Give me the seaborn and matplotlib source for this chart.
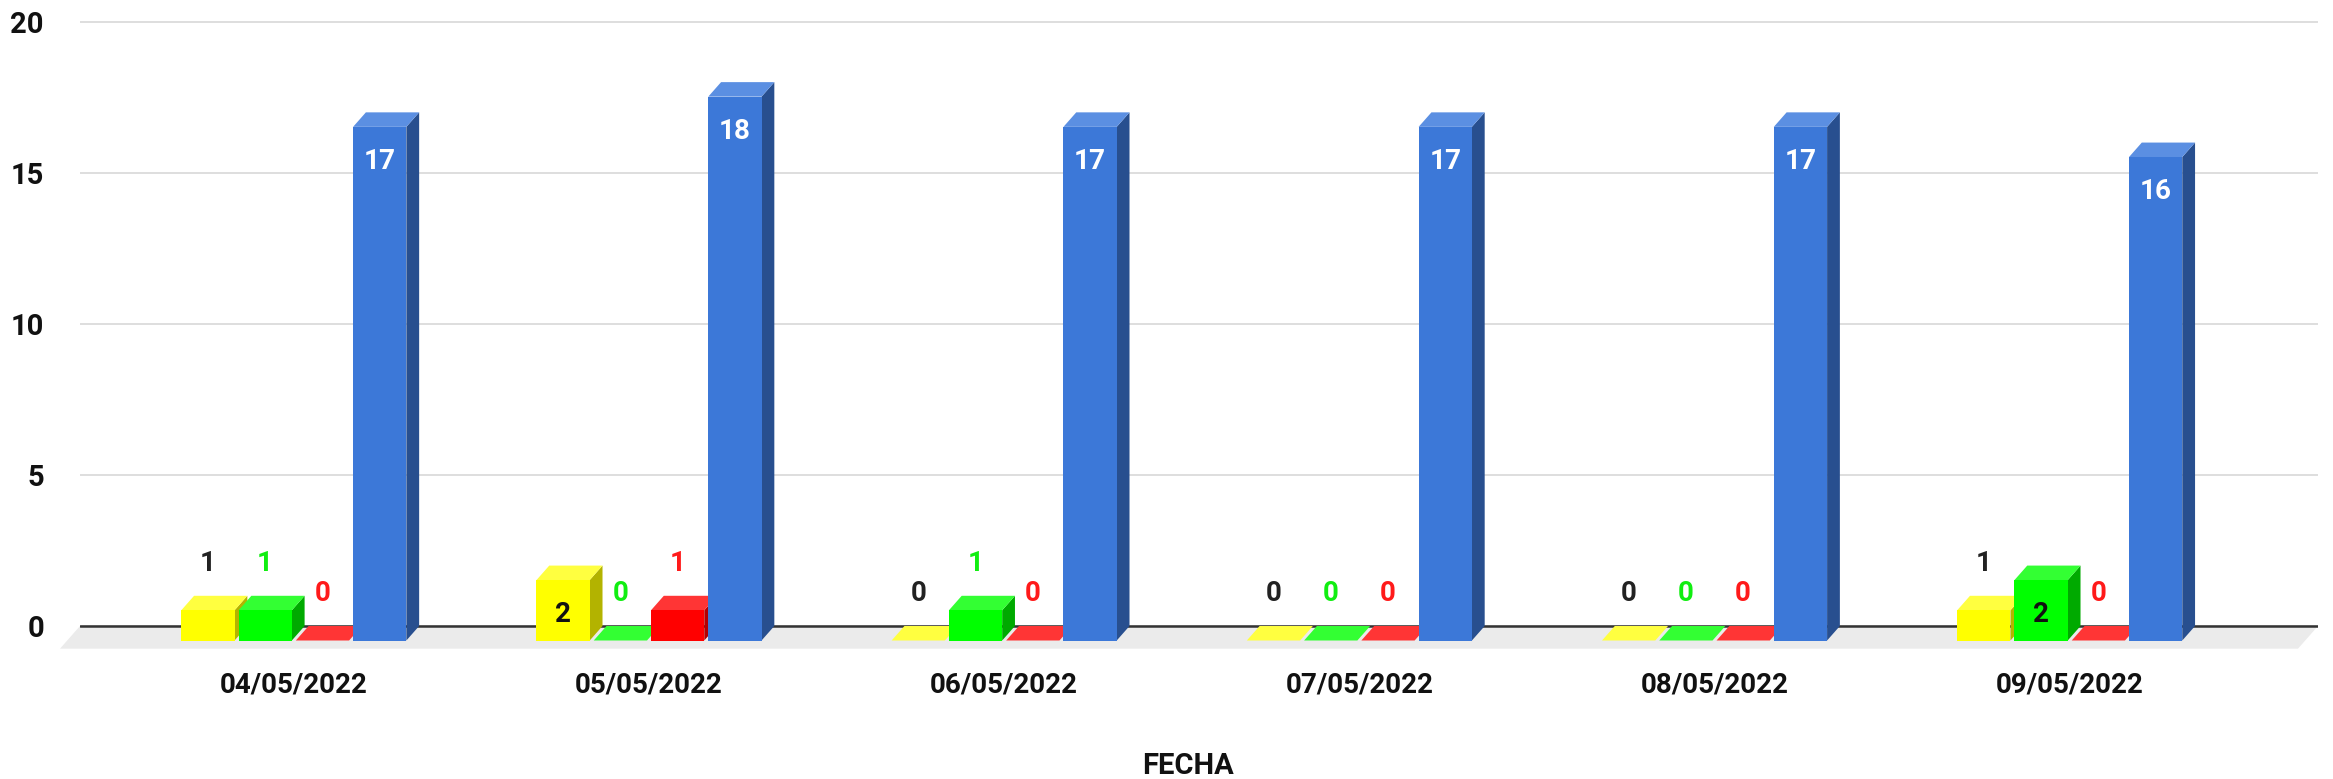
import matplotlib
matplotlib.use("Agg")
import matplotlib.pyplot as plt
from matplotlib.patches import Polygon
import seaborn as sns
import pandas as pd

# ---- data ----
fechas = ["04/05/2022", "05/05/2022", "06/05/2022", "07/05/2022", "08/05/2022", "09/05/2022"]
serie_amarilla = [1, 2, 0, 0, 0, 1]
serie_verde = [1, 0, 1, 0, 0, 2]
serie_roja = [0, 1, 0, 0, 0, 0]
serie_azul = [17, 18, 17, 17, 17, 16]
series_nombres = ["Amarillo", "Verde", "Rojo", "Total"]
y_ticks = [0, 5, 10, 15, 20]
x_titulo = "FECHA"

# ---- style ----
front = ["#ffff00", "#00ff00", "#ff0000", "#3c78d8"]
top = ["#ffff40", "#33ff33", "#ff3535", "#5b8fe2"]
side = ["#b3b300", "#00aa00", "#b30000", "#284f8f"]
out_lbl = ["#222222", "#11ee11", "#ff1a1a", "#222222"]
in_lbl = ["#111111", "#111111", "#111111", "#ffffff"]

sns.set_theme(style="white")
plt.rcParams["font.family"] = ["Roboto", "DejaVu Sans"]

df = pd.DataFrame({
    "fecha": fechas * 4,
    "serie": sum([[s] * len(fechas) for s in series_nombres], []),
    "valor": serie_amarilla + serie_verde + serie_roja + serie_azul,
})

W, H = 2333, 779
fig = plt.figure(figsize=(W / 100, H / 100), dpi=100)
fig.patch.set_facecolor("white")
ax = fig.add_axes([80 / W, 1 - 653.2 / H, 2238 / W, (653.2 - 12.64) / H])

sns.barplot(data=df, x="fecha", y="valor", hue="serie", hue_order=series_nombres,
            palette=front, width=0.645, gap=0.07, saturation=1, legend=False,
            edgecolor="none", linewidth=0, ax=ax)

ax.set_xlim(-0.602, 5.699)
ax.set_ylim(-0.9, 20.3)

dx, dy = 0.036, 0.48        # depth of bars in data units
fdx, fdy = 0.0563, 0.75      # depth of floor

# floor
x0, x1 = ax.get_xlim()
ax.add_patch(Polygon([(x0 + 0.0, 0), (x1, 0), (x1 - fdx, -fdy), (x0 - fdx, -fdy)],
                     closed=True, facecolor="#ebebeb", edgecolor="none", zorder=0.5,
                     clip_on=False))

for k, cont in enumerate(ax.containers):
    zb = 2 + k * 0.1
    for bar in cont:
        bx = bar.get_x()
        bw = bar.get_width()
        h = bar.get_height()
        bar.set_y(-dy)
        bar.set_zorder(zb + 0.02)
        # top face
        ax.add_patch(Polygon([(bx, h - dy), (bx + bw, h - dy), (bx + bw + dx, h), (bx + dx, h)],
                             closed=True, facecolor=top[k], edgecolor="none", zorder=zb + 0.01))
        # side face
        ax.add_patch(Polygon([(bx + bw, -dy), (bx + bw + dx, 0), (bx + bw + dx, h), (bx + bw, h - dy)],
                             closed=True, facecolor=side[k], edgecolor="none", zorder=zb))
        cx = bx + bw / 2
        if h >= 2:
            ax.text(cx, h - dy - 1.15, f"{int(h)}", ha="center", va="center",
                    fontsize=20, fontweight="bold", color=in_lbl[k], zorder=10)
        else:
            ax.text(cx, h + 1.08, f"{int(h)}", ha="center", va="center",
                    fontsize=20, fontweight="bold", color=out_lbl[k], zorder=10)

# grid / baseline
ax.set_yticks(y_ticks)
ax.yaxis.grid(True, color="#d4d4d4", linewidth=1.1)
ax.xaxis.grid(False)
ax.set_axisbelow(True)
ax.axhline(0, color="#333333", linewidth=1.8, zorder=1)

for s in ax.spines.values():
    s.set_visible(False)

ax.tick_params(axis="y", length=0, pad=26, labelsize=21)
ax.tick_params(axis="x", length=0, pad=13, labelsize=20)
for t in ax.get_yticklabels() + ax.get_xticklabels():
    t.set_fontweight("bold")
    t.set_color("#111111")

ax.set_ylabel("")
ax.set_xlabel(x_titulo, fontsize=21, fontweight="bold", color="#111111")
ax.xaxis.set_label_coords((1187.5 - 80) / 2238, -0.1538)
ax.xaxis.label.set_va("top")

fig.savefig("out.png", dpi=100, facecolor="white")
